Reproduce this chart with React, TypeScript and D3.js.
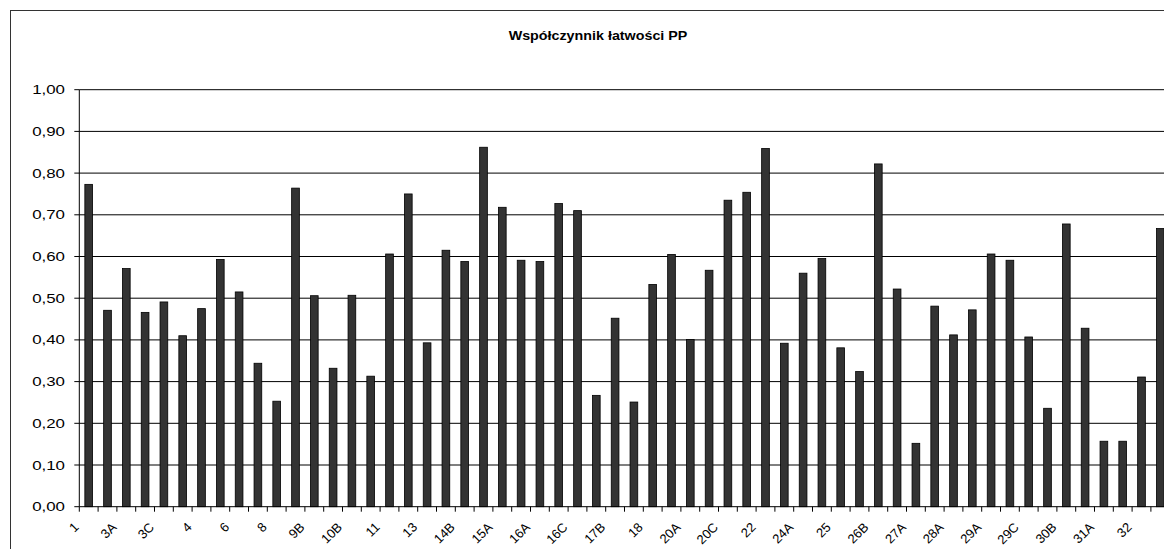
import React from "react";
import * as d3 from "d3";

// zadania (kolejne pozycje na osi X) - co druga etykieta jest pokazywana
const categories = [
  "1", "2", "3A", "3B", "3C", "3D", "4", "5", "6", "7",
  "8", "9A", "9B", "10A", "10B", "10C", "11", "12", "13", "14A",
  "14B", "14C", "15A", "15B", "16A", "16B", "16C", "17A", "17B", "17C",
  "18", "19", "20A", "20B", "20C", "21", "22", "23", "24A", "24B",
  "25", "26A", "26B", "26C", "27A", "27B", "28A", "28B", "29A", "29B",
  "29C", "30A", "30B", "30C", "31A", "31B", "32", "33",
];

const values = [
  0.773, 0.471, 0.571, 0.466, 0.491, 0.410, 0.475, 0.593, 0.515, 0.344,
  0.253, 0.764, 0.506, 0.332, 0.507, 0.313, 0.606, 0.750, 0.393, 0.615,
  0.588, 0.862, 0.718, 0.591, 0.588, 0.727, 0.710, 0.267, 0.452, 0.251,
  0.533, 0.605, 0.401, 0.567, 0.735, 0.754, 0.859, 0.392, 0.560, 0.595,
  0.381, 0.324, 0.822, 0.522, 0.152, 0.481, 0.412, 0.472, 0.606, 0.591,
  0.407, 0.236, 0.678, 0.428, 0.157, 0.157, 0.311, 0.667,
];

const yTicks = [0, 0.1, 0.2, 0.3, 0.4, 0.5, 0.6, 0.7, 0.8, 0.9, 1.0];

const title = "Współczynnik łatwości PP";

const W = 1164;
const H = 549;
const plotLeft = 79.3;
const step = 18.8;
const plotTop = 89.7;
const plotBottom = 506.7;

const plFormat = d3.formatLocale({
  decimal: ",",
  thousands: " ",
  grouping: [3],
  currency: ["", " zł"],
}).format(".2f");

const App = () => {
  const x = React.useMemo(
    () =>
      d3.scaleBand<string>()
        .domain(categories)
        .range([plotLeft, plotLeft + categories.length * step])
        .paddingInner(0.59)
        .paddingOuter(0.295),
    []
  );
  const y = React.useMemo(
    () => d3.scaleLinear().domain([0, 1]).range([plotBottom, plotTop]),
    []
  );

  const x0 = x.range()[0];
  const x1 = x.range()[1];
  const boundaries = d3.range(categories.length + 1).map((i) => x0 + i * x.step());
  const font = "'Liberation Sans', Arial, sans-serif";
  const sx = 1.35; // obraz jest rozciagniety w poziomie

  return (
    <svg
      width={W}
      height={H}
      style={{ position: "absolute", left: 0, top: 0, background: "#fff" }}
    >
      {/* ramka wykresu */}
      <rect x={10.5} y={10.5} width={W + 20} height={H + 20} fill="#fff" stroke="#333" strokeWidth={1} />

      <text
        transform={`translate(${598}, ${40}) scale(1.1, 1)`}
        textAnchor="middle"
        fontFamily={font}
        fontWeight="bold"
        fontSize={13}
        fill="#000"
      >
        {title}
      </text>

      {/* siatka */}
      {yTicks.filter((t) => t > 0).map((t) => (
        <line key={t} x1={x0} x2={x1} y1={y(t)} y2={y(t)} stroke="#000" strokeWidth={1} />
      ))}

      {/* słupki */}
      {values.map((v, i) => (
        <rect
          key={categories[i]}
          x={x(categories[i])}
          y={y(v)}
          width={x.bandwidth()}
          height={y(0) - y(v)}
          fill="#333333"
          stroke="#000"
          strokeWidth={0.8}
        />
      ))}

      {/* oś Y */}
      <line x1={x0} x2={x0} y1={y(1)} y2={y(0)} stroke="#000" />
      {yTicks.map((t) => (
        <g key={t}>
          <line x1={x0 - 5} x2={x0} y1={y(t)} y2={y(t)} stroke="#000" />
          <text
            transform={`translate(${65}, ${y(t) + 4.5}) scale(${sx}, 1)`}
            textAnchor="end"
            fontFamily={font}
            fontSize={12.5}
            fill="#000"
          >
            {plFormat(t)}
          </text>
        </g>
      ))}

      {/* oś X */}
      <line x1={x0} x2={x1} y1={y(0)} y2={y(0)} stroke="#000" />
      {boundaries.map((b, i) => (
        <line key={i} x1={b} x2={b} y1={y(0)} y2={y(0) + 5} stroke="#000" />
      ))}
      {categories.map((c, i) => {
        if (i % 2 !== 0) return null;
        const px = (x(c) ?? 0) + x.bandwidth() / 2 - 9;
        const py = 528;
        return (
          <text
            key={c}
            x={px}
            y={py}
            transform={`rotate(-45 ${px} ${py})`}
            textAnchor="end"
            fontFamily={font}
            fontSize={13}
            fill="#000"
          >
            {c}
          </text>
        );
      })}
    </svg>
  );
};

export default App;
